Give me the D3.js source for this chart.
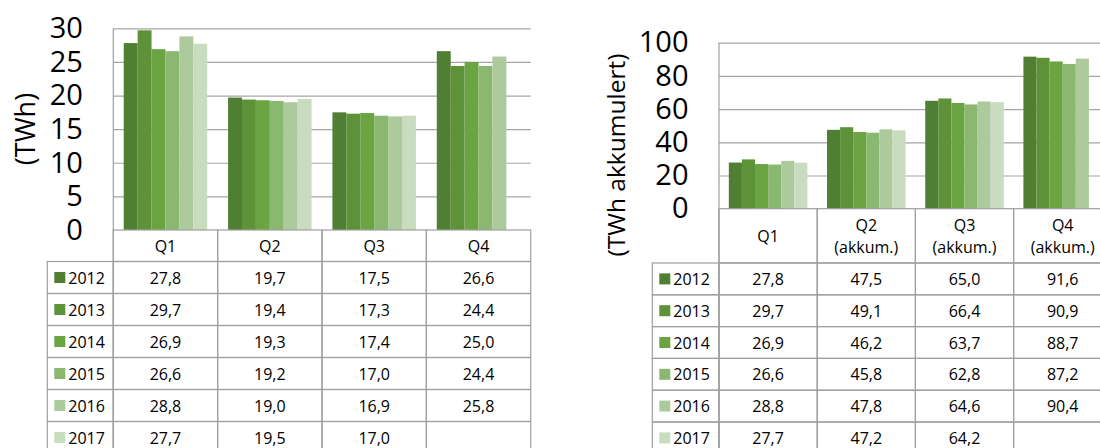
<!DOCTYPE html>
<html lang="no">
<head>
<meta charset="UTF-8">
<title>Kvartalsvis produksjon</title>
<script src="https://cdn.jsdelivr.net/npm/d3@7"></script>
<style>
    body { margin: 0; background: #fff; }
    svg { font-family: "Open Sans", "Noto Sans", sans-serif; }
    .grid line { stroke: #a6a6a6; stroke-width: 1.2px; }
    .grid path { display: none; }
    .ticks path, .ticks line { display: none; }
    .ticks text { font-size: 29px; fill: #000; font-family: "Open Sans", "Noto Sans", sans-serif; }
    .cell { fill: none; stroke: #9f9f9f; stroke-width: 1.2px; }
    .tbl text { font-size: 16px; fill: #000; }
</style>
</head>
<body>
<script>
    // data
    const years = ["2012", "2013", "2014", "2015", "2016", "2017"];
    const quarters = ["Q1", "Q2", "Q3", "Q4"];
    const quarterLabels = [["Q1"], ["Q2"], ["Q3"], ["Q4"]];
    const cumLabels = [["Q1"], ["Q2", "(akkum.)"], ["Q3", "(akkum.)"], ["Q4", "(akkum.)"]];

    // rows = years, columns = quarters (null = not available yet)
    const quarterly = [
        [27.8, 19.7, 17.5, 26.6],
        [29.7, 19.4, 17.3, 24.4],
        [26.9, 19.3, 17.4, 25.0],
        [26.6, 19.2, 17.0, 24.4],
        [28.8, 19.0, 16.9, 25.8],
        [27.7, 19.5, 17.0, null]
    ];
    const cumulative = [
        [27.8, 47.5, 65.0, 91.6],
        [29.7, 49.1, 66.4, 90.9],
        [26.9, 46.2, 63.7, 88.7],
        [26.6, 45.8, 62.8, 87.2],
        [28.8, 47.8, 64.6, 90.4],
        [27.7, 47.2, 64.2, null]
    ];
    const palette = ["#507e32", "#5e9239", "#6aa443", "#8bb870", "#adca9d", "#c9dcbf"];

    const W = 1100, H = 448;
    const svg = d3.select("body").append("svg").attr("width", W).attr("height", H);

    const fmt = v => v == null ? "" : d3.format(".1f")(v).replace(".", ",");
    const color = d3.scaleOrdinal().domain(years).range(palette);

    function panel(cfg) {
        const g = svg.append("g");
        const x0 = d3.scaleBand().domain(quarters)
            .range([cfg.left, cfg.left + cfg.catW * quarters.length]);
        const x1 = d3.scaleBand().domain(years)
            .range([0, x0.bandwidth()]).paddingInner(0).paddingOuter(0.75);
        const y = d3.scaleLinear().domain([0, cfg.max]).range([cfg.bottom, cfg.top]);
        const right = x0.range()[1];
        const tickVals = d3.range(0, cfg.max + 1, cfg.step);

        // gridlines
        g.append("g").attr("class", "grid")
            .attr("transform", `translate(${cfg.left},0)`)
            .call(d3.axisLeft(y).tickValues(tickVals.slice(1)).tickSize(-(right - cfg.left)).tickFormat(""));

        // tick labels
        g.append("g").attr("class", "ticks")
            .attr("transform", `translate(${cfg.left},0)`)
            .call(d3.axisLeft(y).tickValues(tickVals).tickSize(0).tickPadding(30.5));

        // bars
        const rows = years.map((yr, i) => ({year: yr, vals: cfg.values[i]}));
        const flat = [];
        rows.forEach(r => r.vals.forEach((v, j) => { if (v != null) flat.push({year: r.year, q: quarters[j], v: v}); }));
        g.append("g").selectAll("rect").data(flat).join("rect")
            .attr("x", d => x0(d.q) + x1(d.year))
            .attr("y", d => y(d.v))
            .attr("width", x1.bandwidth())
            .attr("height", d => y(0) - y(d.v))
            .attr("fill", d => color(d.year));

        // y title
        g.append("text")
            .attr("transform", `translate(${cfg.titleX},${cfg.titleY}) rotate(-90)`)
            .attr("text-anchor", "middle")
            .attr("dominant-baseline", "central")
            .style("font-size", cfg.titleSize + "px")
            .text(cfg.title);

        // data table
        const t = g.append("g").attr("class", "tbl");
        const bottomTbl = cfg.rowTop + cfg.rowH * years.length;

        // header cells
        t.selectAll("rect.hdr").data(quarters).join("rect")
            .attr("class", "cell hdr")
            .attr("x", d => x0(d)).attr("y", cfg.bottom)
            .attr("width", x0.bandwidth()).attr("height", cfg.rowTop - cfg.bottom);
        quarters.forEach((q, j) => {
            const lines = cfg.labels[j];
            const cy = (cfg.bottom + cfg.rowTop) / 2;
            lines.forEach((s, k) => {
                t.append("text")
                    .attr("x", x0(q) + x0.bandwidth() / 2)
                    .attr("y", cy + (k - (lines.length - 1) / 2) * 21.5)
                    .attr("text-anchor", "middle")
                    .attr("dominant-baseline", "central")
                    .text(s);
            });
        });

        // body rows
        rows.forEach((r, i) => {
            const top = cfg.rowTop + i * cfg.rowH;
            const cy = top + cfg.rowH / 2;
            t.append("rect").attr("class", "cell")
                .attr("x", cfg.legendLeft).attr("y", top)
                .attr("width", cfg.left - cfg.legendLeft).attr("height", cfg.rowH);
            t.append("rect")
                .attr("x", cfg.legendLeft + 7).attr("y", cy - 5.5)
                .attr("width", 11).attr("height", 11)
                .attr("fill", color(r.year));
            t.append("text")
                .attr("x", cfg.legendLeft + 21).attr("y", cy)
                .attr("dominant-baseline", "central")
                .text(r.year);
            quarters.forEach((q, j) => {
                t.append("rect").attr("class", "cell")
                    .attr("x", x0(q)).attr("y", top)
                    .attr("width", x0.bandwidth()).attr("height", cfg.rowH);
                t.append("text")
                    .attr("x", x0(q) + x0.bandwidth() / 2).attr("y", cy)
                    .attr("text-anchor", "middle")
                    .attr("dominant-baseline", "central")
                    .text(fmt(r.vals[j]));
            });
        });

        // left edge of the plot runs down through the table
        g.append("line").attr("class", "cell")
            .attr("x1", cfg.left).attr("x2", cfg.left)
            .attr("y1", cfg.top).attr("y2", bottomTbl);
    }

    panel({
        left: 113.3, top: 28.3, bottom: 230, catW: 104.35, max: 30, step: 5,
        values: quarterly, labels: quarterLabels,
        rowTop: 261.5, rowH: 32, legendLeft: 47.3,
        title: "(TWh)", titleX: 24, titleY: 129, titleSize: 27
    });

    panel({
        left: 719, top: 42.7, bottom: 208.7, catW: 98.2, max: 100, step: 20,
        values: cumulative, labels: cumLabels,
        rowTop: 263, rowH: 31.8, legendLeft: 652.3,
        title: "(TWh akkumulert)", titleX: 615, titleY: 155, titleSize: 24.5
    });
</script>
</body>
</html>
